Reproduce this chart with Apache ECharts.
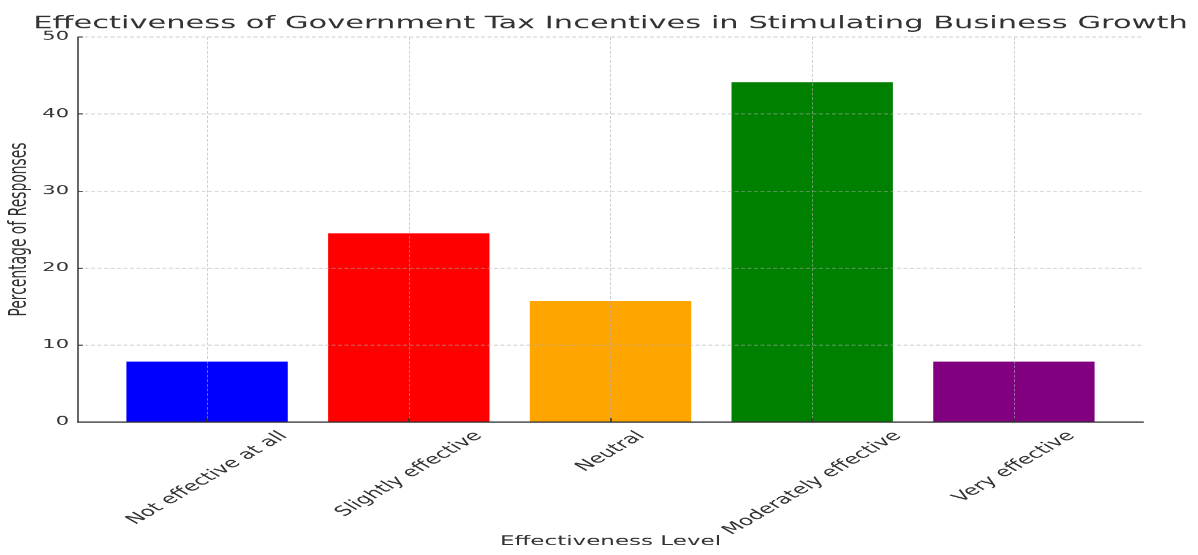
<!DOCTYPE html>
<html>
<head>
<meta charset="utf-8">
<script src="https://cdn.jsdelivr.net/npm/echarts@6/dist/echarts.min.js"></script>
<style>
html,body{margin:0;padding:0;overflow:hidden;background:#fff;width:1198px;height:555px}
#chart{width:1198px;height:960px;transform:scaleY(0.578125);transform-origin:0 0}
</style>
</head>
<body>
<div id="chart"></div>
<script>
// ---- data ----
const chartTitle = 'Effectiveness of Government Tax Incentives in Stimulating Business Growth';
const xAxisName = 'Effectiveness Level';
const yAxisName = 'Percentage of Responses';
const categories = ['Not effective at all', 'Slightly effective', 'Neutral', 'Moderately effective', 'Very effective'];
const percentages = [7.84, 24.51, 15.69, 44.12, 7.84];
const barColors = ['#0000ff', '#ff0000', '#ffa500', '#008000', '#800080'];
const yMin = 0, yMax = 50, yStep = 10;

// ---- layout (chart drawn at 1198x960, then squeezed vertically to 555) ----
const W = 1198, H = 960;
const plotLeft = 78, plotRight = 1143, plotTop = 64, plotBottom = 730;
const xPad = 0.64;
const unit = (plotRight - plotLeft) / (categories.length - 1 + 2 * xPad);
const firstX = plotLeft + xPad * unit, lastX = plotRight - xPad * unit;

const FONT = '"DejaVu Sans", sans-serif';
const TXT = '#333333';
const xLabelSize = 23.5;
const gridColor = 'rgba(176,176,176,0.6)';

const mctx = document.createElement('canvas').getContext('2d');
mctx.font = xLabelSize + 'px "DejaVu Sans"';
const catItems = categories.map(c => {
  const w = mctx.measureText(c).width, h = xLabelSize;
  return { value: c, textStyle: {
    align: 'center', verticalAlign: 'top',
    padding: [Math.max(0, 0.25 * (w - h)), 0.5 * (w + h), 0, 0]
  } };
});

const chart = echarts.init(document.getElementById('chart'), null, { renderer: 'canvas' });
chart.setOption({
  backgroundColor: '#ffffff',
  animation: false,
  title: {
    text: chartTitle,
    left: (plotLeft + plotRight) / 2,
    textAlign: 'center',
    top: 26,
    padding: 0,
    textStyle: { fontFamily: FONT, fontSize: 30.5, fontWeight: 'normal', color: TXT }
  },
  grid: [
    { left: plotLeft, right: W - plotRight, top: plotTop, bottom: H - plotBottom, containLabel: false, outerBoundsMode: 'none' },
    { left: firstX, right: W - lastX, top: plotTop, bottom: H - plotBottom, containLabel: false, outerBoundsMode: 'none' }
  ],
  xAxis: [
    {
      gridIndex: 0, type: 'value', min: 0, max: 1,
      axisLine: { show: true, lineStyle: { color: TXT, width: 2.2 } },
      axisTick: { show: false }, axisLabel: { show: false }, splitLine: { show: false },
      name: xAxisName, nameLocation: 'middle', nameGap: 196,
      nameTextStyle: { fontFamily: FONT, fontSize: 23, color: TXT },
      z: 4
    },
    {
      gridIndex: 1, type: 'category', boundaryGap: false, data: catItems,
      axisLine: { show: false },
      axisTick: { show: true, inside: true, length: 7, interval: 0, lineStyle: { color: TXT, width: 1.5 } },
      axisLabel: { interval: 0, rotate: 45, align: 'center', verticalAlign: 'top', margin: 12,
        fontFamily: FONT, fontSize: xLabelSize, color: TXT, hideOverlap: false },
      splitLine: { show: true, interval: 0, lineStyle: { color: gridColor, type: [5, 3], width: 1 } },
      z: 4
    }
  ],
  yAxis: [
    {
      gridIndex: 0, type: 'value', min: yMin, max: yMax, interval: yStep,
      axisLine: { show: true, lineStyle: { color: TXT, width: 1.5 } },
      axisTick: { show: true, inside: true, length: 5, lineStyle: { color: TXT, width: 1.5 } },
      axisLabel: { margin: 9, fontFamily: FONT, fontSize: 21, color: TXT },
      splitLine: { show: true, lineStyle: { color: gridColor, type: [4, 2.5], width: 1.6 } },
      name: yAxisName, nameLocation: 'middle', nameGap: 44,
      nameTextStyle: { fontFamily: FONT, fontSize: 24, color: TXT },
      z: 4
    },
    { gridIndex: 1, type: 'value', min: yMin, max: yMax, interval: yStep, show: false }
  ],
  series: [{
    type: 'bar', xAxisIndex: 1, yAxisIndex: 1, barWidth: '80%', clip: false, z: 2,
    data: percentages.map((v, i) => ({ value: v, itemStyle: { color: barColors[i] } }))
  }]
});
</script>
</body>
</html>
